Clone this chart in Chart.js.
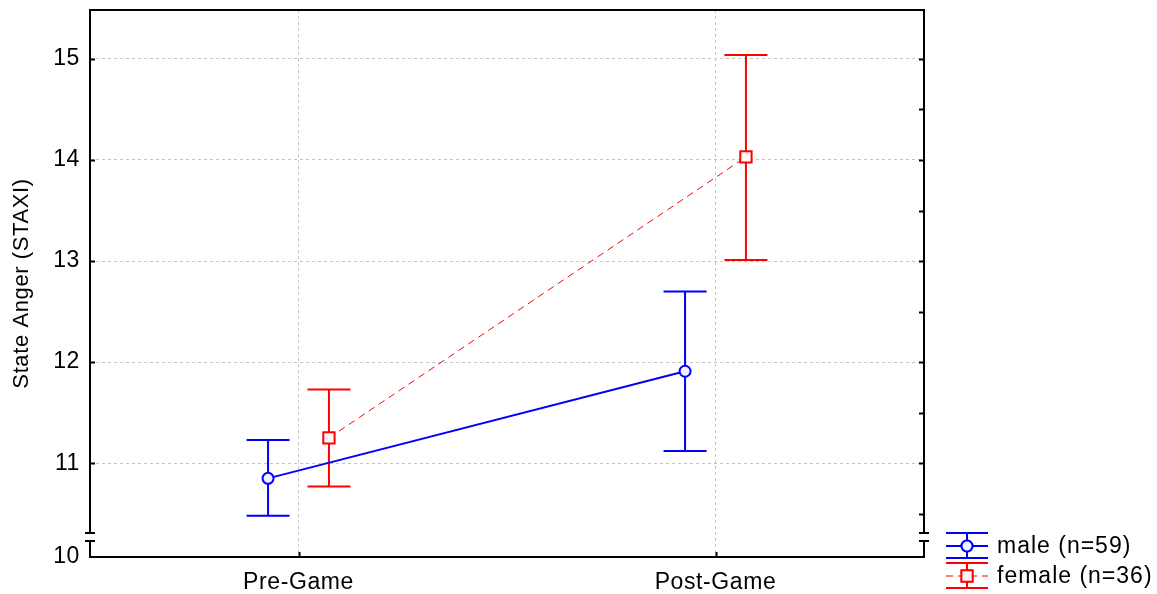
<!DOCTYPE html>
<html>
<head>
<meta charset="utf-8">
<script src="https://cdn.jsdelivr.net/npm/chart.js@4"></script>
<style>
  html, body { margin: 0; padding: 0; background: #fff; }
  canvas { display: block; }
</style>
</head>
<body>
<canvas id="c" width="1157" height="594"></canvas>
<script>
// ---- data ----
const phases = ['Pre-Game', 'Post-Game'];
const groupLabels = ['male (n=59)', 'female (n=36)'];
const maleMean = [10.85, 11.91];
const maleLow = [10.48, 11.12];
const maleHigh = [11.23, 12.70];
const femaleMean = [11.25, 14.03];
const femaleLow = [10.77, 13.01];
const femaleHigh = [11.73, 15.04];
const yTickValues = [11, 12, 13, 14, 15];
const yTitle = 'State Anger (STAXI)';

// The value axis is broken just above 10; its floor carries the "10" label.
const AXIS_FLOOR = 10.072;
const AXIS_TOP = 15.484;

// ---- styling ----
const FONT = "'Liberation Sans', Arial, sans-serif";
const BLUE = '#0000ff';
const RED = '#ff0000';
const DODGE = 0.073;     // horizontal offset of each group around a phase
const CAP = 21.5;        // half width of error bar caps (px)
const GRID = '#c4c4c4';

Chart.defaults.font.family = FONT;
Chart.defaults.color = '#000';

const toPoints = (means, shift) => means.map((m, i) => ({ x: i + 0.5 + shift, y: m }));

const spacing = {
  id: 'spacing',
  beforeUpdate(chart) { chart.ctx.letterSpacing = '0.6px'; },
  beforeDraw(chart) { chart.ctx.letterSpacing = '0.6px'; }
};

const errorBars = {
  id: 'errorBars',
  beforeDatasetsDraw(chart) {
    const { ctx, scales: { x, y } } = chart;
    chart.data.datasets.forEach((ds) => {
      ctx.save();
      ctx.strokeStyle = ds.borderColor;
      ctx.lineWidth = 2;
      ds.data.forEach((p, i) => {
        const px = x.getPixelForValue(p.x);
        const top = y.getPixelForValue(ds.ciHigh[i]);
        const bot = y.getPixelForValue(ds.ciLow[i]);
        ctx.beginPath();
        ctx.moveTo(px, top); ctx.lineTo(px, bot);
        ctx.moveTo(px - CAP, top); ctx.lineTo(px + CAP, top);
        ctx.moveTo(px - CAP, bot); ctx.lineTo(px + CAP, bot);
        ctx.stroke();
      });
      ctx.restore();
    });
  }
};

const frame = {
  id: 'frame',
  afterDatasetsDraw(chart) {
    const { ctx, chartArea: a, scales: { x, y } } = chart;
    const brkHi = a.bottom - 24, brkLo = a.bottom - 16;
    ctx.save();
    ctx.strokeStyle = '#000';
    ctx.lineWidth = 2;
    ctx.lineCap = 'butt';
    ctx.beginPath();
    // top and bottom
    ctx.moveTo(a.left - 1, a.top); ctx.lineTo(a.right + 1, a.top);
    ctx.moveTo(a.left - 1, a.bottom); ctx.lineTo(a.right + 1, a.bottom);
    // side axes with a break
    [a.left, a.right].forEach((sx) => {
      ctx.moveTo(sx, a.top); ctx.lineTo(sx, brkHi);
      ctx.moveTo(sx, brkLo); ctx.lineTo(sx, a.bottom);
      ctx.moveTo(sx - 5, brkHi); ctx.lineTo(sx + 5, brkHi);
      ctx.moveTo(sx - 5, brkLo); ctx.lineTo(sx + 5, brkLo);
    });
    // inward ticks: integers on the left, halves on the right
    yTickValues.forEach((v) => {
      const py = Math.round(y.getPixelForValue(v)) + 0.5;
      ctx.moveTo(a.left, py); ctx.lineTo(a.left + 5, py);
    });
    for (let v = 10.5; v <= 15; v += 0.5) {
      const py = Math.round(y.getPixelForValue(v)) + 0.5;
      ctx.moveTo(a.right, py); ctx.lineTo(a.right - 5, py);
    }
    phases.forEach((_, i) => {
      const px = Math.round(x.getPixelForValue(i + 0.5)) + 0.5;
      ctx.moveTo(px, a.bottom); ctx.lineTo(px, a.bottom - 5);
    });
    ctx.stroke();
    ctx.restore();
  }
};

const sideLegend = {
  id: 'sideLegend',
  afterDraw(chart) {
    const { ctx, chartArea: a } = chart;
    const x0 = a.right + 22, w = 42, xc = x0 + w / 2;
    const rows = [a.bottom - 11, a.bottom + 19];
    ctx.save();
    chart.data.datasets.forEach((ds, i) => {
      const yc = rows[i];
      ctx.strokeStyle = ds.borderColor;
      ctx.lineWidth = 2;
      ctx.setLineDash([]);
      ctx.beginPath();
      ctx.moveTo(x0, yc - 13); ctx.lineTo(x0 + w, yc - 13);
      ctx.moveTo(x0, yc + 12); ctx.lineTo(x0 + w, yc + 12);
      ctx.moveTo(xc, yc - 13); ctx.lineTo(xc, yc + 12);
      ctx.stroke();
      ctx.lineWidth = ds.borderWidth;
      ctx.setLineDash(ds.borderDash || []);
      ctx.beginPath();
      ctx.moveTo(x0, yc); ctx.lineTo(x0 + w, yc);
      ctx.stroke();
      ctx.setLineDash([]);
      Chart.helpers.drawPoint(ctx, {
        pointStyle: ds.pointStyle,
        radius: ds.pointRadius,
        borderWidth: ds.pointBorderWidth
      }, xc, yc);
      ctx.fillStyle = ds.pointBackgroundColor;
      ctx.strokeStyle = ds.borderColor;
      ctx.lineWidth = ds.pointBorderWidth;
      ctx.fill();
      ctx.stroke();
      ctx.fillStyle = '#000';
      ctx.font = '23px ' + FONT;
      ctx.letterSpacing = '1px';
      ctx.textAlign = 'left';
      ctx.textBaseline = 'middle';
      ctx.fillText(ds.label, x0 + w + 9, yc + 1);
    });
    ctx.restore();
  }
};

new Chart(document.getElementById('c'), {
  type: 'line',
  data: {
    datasets: [
      {
        label: groupLabels[0],
        data: toPoints(maleMean, -DODGE),
        ciLow: maleLow,
        ciHigh: maleHigh,
        borderColor: BLUE,
        borderWidth: 2,
        pointStyle: 'circle',
        pointRadius: 5.5,
        pointBorderWidth: 2,
        pointBackgroundColor: '#f2f2ff',
        pointBorderColor: BLUE
      },
      {
        label: groupLabels[1],
        data: toPoints(femaleMean, DODGE),
        ciLow: femaleLow,
        ciHigh: femaleHigh,
        borderColor: RED,
        borderWidth: 1,
        borderDash: [7, 5],
        pointStyle: 'rect',
        pointRadius: 8,
        pointBorderWidth: 2,
        pointBackgroundColor: '#fff6f6',
        pointBorderColor: RED
      }
    ]
  },
  options: {
    responsive: false,
    animation: false,
    devicePixelRatio: 1,
    layout: { padding: { top: 9, right: 233, left: 0, bottom: 0 } },
    plugins: { legend: { display: false }, tooltip: { enabled: false } },
    scales: {
      x: {
        type: 'linear',
        min: 0,
        max: 2,
        afterBuildTicks: (s) => { s.ticks = phases.map((_, i) => ({ value: i + 0.5 })); },
        afterFit: (s) => { s.height = 37; s.paddingLeft = 0; s.paddingRight = 0; },
        ticks: {
          callback: (v, i) => phases[i],
          font: { size: 23 },
          padding: 12,
          maxRotation: 0,
          autoSkip: false
        },
        grid: { color: GRID, lineWidth: 1, drawTicks: false },
        border: { display: false, dash: [3, 3] }
      },
      y: {
        type: 'linear',
        min: AXIS_FLOOR,
        max: AXIS_TOP,
        afterBuildTicks: (s) => {
          s.ticks = [{ value: AXIS_FLOOR }].concat(yTickValues.map((v) => ({ value: v })));
        },
        afterFit: (s) => { s.width = 90; s.paddingTop = 0; s.paddingBottom = 0; },
        ticks: {
          callback: (v) => (v === AXIS_FLOOR ? '10' : String(v)),
          font: { size: 23 },
          padding: 10
        },
        grid: {
          color: (c) => (c.tick && c.tick.value === AXIS_FLOOR ? 'rgba(0,0,0,0)' : GRID),
          lineWidth: 1,
          drawTicks: false
        },
        border: { display: false, dash: [3, 3] },
        title: {
          display: true,
          text: yTitle,
          font: { size: 22 },
          padding: { top: 9, bottom: 0 }
        }
      }
    }
  },
  plugins: [spacing, errorBars, frame, sideLegend]
});
</script>
</body>
</html>
